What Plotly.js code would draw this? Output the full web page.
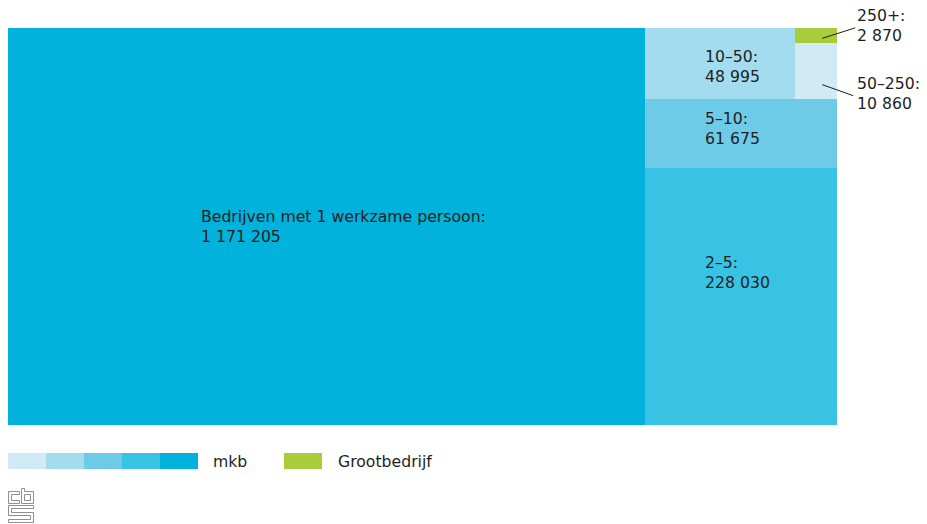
<!DOCTYPE html>
<html>
<head>
<meta charset="utf-8">
<script src="https://cdn.plot.ly/plotly-3.0.1.min.js"></script>
<style>
html,body{margin:0;padding:0;background:#fff;}
#chart{width:927px;height:524px;}
</style>
</head>
<body>
<div id="chart"></div>
<script>
// ---- data ----
const labels = ['Bedrijven met 1 werkzame persoon', '2\u20135', '5\u201310', '10\u201350', '50\u2013250', '250+'];
const values = [1171205, 228030, 61675, 48995, 10860, 2870];
const groups = ['mkb', 'mkb', 'mkb', 'mkb', 'mkb', 'Grootbedrijf'];
const legendLabels = ['mkb', 'Grootbedrijf'];

// ---- style ----
const colors = ['#00b2dc', '#38c3e4', '#6dcbe7', '#a3dcee', '#d0ebf5', '#a8cc3a'];
const legendMkbColors = ['#d0ebf5', '#a3dcee', '#6dcbe7', '#38c3e4', '#00b2dc'];
const grootColor = '#a8cc3a';
const FONT = 'DejaVu Sans, sans-serif';
const FS = 15.7;
const TXT = '#1e1e1e';
const ML = 8, MR = 90, MT = 28, MB = 99;
const PW = 927 - ML - MR, PH = 524 - MT - MB;

function fmt(v){ return String(v).replace(/\B(?=(\d{3})+(?!\d))/g, ' '); }

// ---- treemap layout from values (area proportional) ----
const total = values.reduce((a,b)=>a+b,0);
const H = Math.sqrt(total * PH / PW);
const W = total / H;
const rects = [];
const bw = values[0] / H;
rects[0] = {x0:0, x1:bw, y0:0, y1:H};
const cw = W - bw;
let yc = 0;
for (let i = 1; i <= 2; i++) {
  const h = values[i] / cw;
  rects[i] = {x0:bw, x1:W, y0:yc, y1:yc + h};
  yc += h;
}
const topH = H - yc;
const w4 = values[3] / topH;
rects[3] = {x0:bw, x1:bw + w4, y0:yc, y1:H};
const sw = W - bw - w4;
const h6 = values[5] / sw;
rects[5] = {x0:bw + w4, x1:W, y0:H - h6, y1:H};
rects[4] = {x0:bw + w4, x1:W, y0:yc, y1:H - h6};

const trace = {
  type: 'bar',
  x: rects.map(r => (r.x0 + r.x1) / 2),
  width: rects.map(r => r.x1 - r.x0),
  base: rects.map(r => r.y0),
  y: rects.map(r => r.y1 - r.y0),
  marker: {color: colors, line: {width: 0}},
  hoverinfo: 'skip',
  showlegend: false
};

// label placement: left edge at 30% of the column, vertical fraction from top of box
const yFracFromTop = [0.5, 0.405, 0.436, 0.54];
const annotations = [];
for (let i = 0; i < 4; i++) {
  const r = rects[i];
  const colX0 = i === 0 ? 0 : bw;
  const colW = i === 0 ? bw : cw;
  annotations.push({
    xref: 'x', yref: 'y',
    x: colX0 + 0.3 * colW,
    y: r.y1 - yFracFromTop[i] * (r.y1 - r.y0),
    text: labels[i] + ':<br>' + fmt(values[i]),
    showarrow: false, xanchor: 'left', yanchor: 'middle', align: 'left',
    font: {family: FONT, size: FS, color: TXT}
  });
}
// outside labels for the two smallest boxes
const outside = [
  {i: 5, yshift: 10, lf: 0.7, dx: 33, dy: 10.5},
  {i: 4, yshift: -23, lf: 0.75, dx: 31, dy: -11}
];
const shapes = [];
outside.forEach(o => {
  const r = rects[o.i];
  const cy = (r.y0 + r.y1) / 2;
  annotations.push({
    xref: 'x', yref: 'y', x: W, y: cy, xshift: 18, yshift: o.yshift,
    text: labels[o.i] + ':<br>' + fmt(values[o.i]),
    showarrow: false, xanchor: 'left', yanchor: 'middle', align: 'left',
    font: {family: FONT, size: FS, color: TXT}
  });
  const sx = (r.x0 + 0.65 * (r.x1 - r.x0)) / W;
  const sy = (r.y1 - o.lf * (r.y1 - r.y0)) / H;
  shapes.push({type: 'line', xref: 'paper', yref: 'paper',
    x0: sx, y0: sy, x1: sx + o.dx / PW, y1: sy + o.dy / PH,
    line: {color: TXT, width: 1}});
});

// ---- custom legend ----
const px = v => (v - ML) / PW;
const py = v => (MT + PH - v) / PH;
const swW = 38, swTop = 453, swBot = 469;
legendMkbColors.forEach((c, k) => {
  shapes.push({type: 'rect', xref: 'paper', yref: 'paper', layer: 'above',
    x0: px(8 + k * swW), x1: px(8 + (k + 1) * swW), y0: py(swBot), y1: py(swTop),
    fillcolor: c, line: {width: 0}});
});
shapes.push({type: 'rect', xref: 'paper', yref: 'paper',
  x0: px(284), x1: px(322), y0: py(swBot), y1: py(swTop),
  fillcolor: grootColor, line: {width: 0}});
annotations.push({xref: 'paper', yref: 'paper', x: px(211), y: py(461),
  text: legendLabels[0], showarrow: false, xanchor: 'left', yanchor: 'middle',
  font: {family: FONT, size: FS, color: TXT}});
annotations.push({xref: 'paper', yref: 'paper', x: px(336), y: py(461),
  text: legendLabels[1], showarrow: false, xanchor: 'left', yanchor: 'middle',
  font: {family: FONT, size: FS, color: TXT}});

// ---- logo ----
const logoSvg = '<svg xmlns="http://www.w3.org/2000/svg" width="26" height="35" viewBox="0 0 26 35">' +
  '<g fill="none" stroke="#8f8f8f" stroke-width="1">' +
  '<path d="M0.5 3.5 H11.5 V6.5 H3.5 V12.5 H11.5 V15.5 H0.5 Z"/>' +
  '<path d="M13.5 0.5 H16.5 V3.5 H25.5 V15.5 H13.5 Z M16.5 6.5 V12.5 H22.5 V6.5 Z"/>' +
  '<path d="M0.5 17.5 H25.5 V20.5 H3.5 V24.5 H25.5 V34.5 H0.5 V31.5 H22.5 V27.5 H0.5 Z"/>' +
  '</g></svg>';
const images = [{
  source: 'data:image/svg+xml;charset=utf-8,' + encodeURIComponent(logoSvg),
  xref: 'paper', yref: 'paper', x: px(8), y: py(488), sizex: 26 / PW, sizey: 35 / PH,
  xanchor: 'left', yanchor: 'top', sizing: 'stretch', layer: 'above'
}];

const layout = {
  width: 927, height: 524,
  margin: {l: ML, r: MR, t: MT, b: MB, pad: 0},
  paper_bgcolor: '#ffffff', plot_bgcolor: '#ffffff',
  barmode: 'overlay', bargap: 0,
  xaxis: {range: [0, W], visible: false, fixedrange: true},
  yaxis: {range: [0, H], visible: false, fixedrange: true},
  showlegend: false,
  annotations: annotations,
  shapes: shapes,
  images: images,
  font: {family: FONT, color: TXT}
};

Plotly.newPlot('chart', [trace], layout, {staticPlot: true, displayModeBar: false});
</script>
</body>
</html>
